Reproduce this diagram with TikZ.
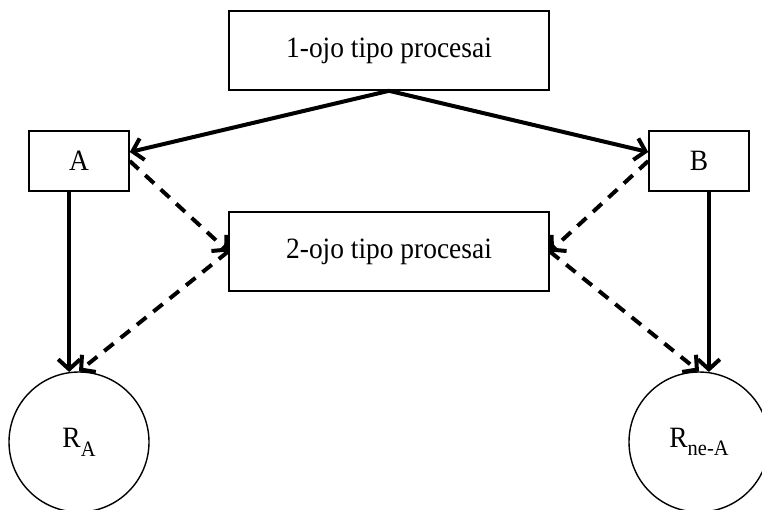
\documentclass[tikz,border=0pt]{standalone}
\usepackage{fontspec}
\setmainfont{Liberation Serif}[FakeStretch=0.93]
\usepackage{tikz}
\usetikzlibrary{arrows.meta,positioning}
\usepackage{xcolor}
\tikzset{
  proc/.style={draw, line width=1.6pt, minimum width=320pt, minimum height=79pt, inner sep=0pt},
  letter/.style={draw, line width=1.6pt, minimum width=100pt, minimum height=60pt, inner sep=0pt},
  res/.style={draw, circle, line width=1.4pt, minimum size=140pt, inner sep=0pt},
  solidarr/.style={line width=4pt, -{Straight Barb[length=10pt,width=22pt]}},
  dasharr/.style={solidarr, dash pattern=on 12pt off 9pt}
}
\newcommand{\lowsub}[1]{\raisebox{-0.3em}{\fontsize{22}{22}\selectfont #1}}

\begin{document}
\begin{tikzpicture}[x=1pt,y=-1pt,font=\fontsize{29.5}{34}\selectfont]
\useasboundingbox (0,0) rectangle (762,509);

% process boxes
\node[proc] (one) at (389,50.5) {1-ojo tipo procesai};
\node[proc] (two) at (389,251.5) {2-ojo tipo procesai};

% groups
\node[letter] (A) at (79,161) {A};
\node[letter] (B) at (699,161) {B};

% results
\node[res] (ra) at (79,442) {R\lowsub{A}};
\node[res] (rb) at (699,442) {R\lowsub{ne-A}};

% solid links
\draw[solidarr] (one.south) -- (A.10);
\draw[solidarr] (one.south) -- (B.170);
\draw[solidarr] (ra.98 |- A.south) -- (ra.98);
\draw[solidarr] (rb.82 |- B.south) -- (rb.82);

% dashed links
\draw[dasharr] (A.east) -- (two.west);
\draw[dasharr] (B.west) -- (two.east);
\draw[dasharr] (two.west) -- (ra.north);
\draw[dasharr] (two.east) -- (rb.north);
\end{tikzpicture}
\end{document}
